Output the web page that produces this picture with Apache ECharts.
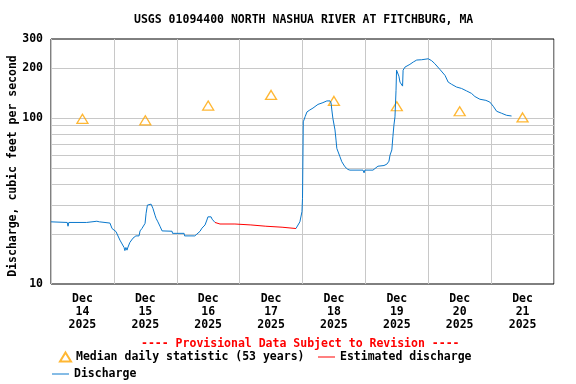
<!DOCTYPE html>
<html>
<head>
<meta charset="utf-8">
<script src="https://cdn.jsdelivr.net/npm/echarts@6/dist/echarts.min.js"></script>
<style>html,body{margin:0;padding:0;background:#fff}#main{width:576px;height:384px}</style>
</head>
<body>
<div id="main"></div>
<script>
// x values are hours after Dec 14 2025 00:00, y values are discharge (cfs)
var flowHoursA = [0, 6.2, 6.5, 6.8, 13.6, 13.7, 17.5, 17.7, 18.5, 19.0, 22.5, 23.3, 24.8, 26.3, 27.9, 28.2, 28.6, 29.0, 29.4, 30.1,
    31.3, 32.4, 33.6, 34.0, 34.7, 35.9, 36.3, 36.8, 37.4, 38.2, 38.9, 39.7, 40.1, 40.8, 41.6, 42.4, 46.2, 46.4, 50.8, 51.0,
    54.9, 55.7, 56.9, 57.6, 58.8, 59.5, 59.9, 61.1, 61.5, 61.8, 62.6];
var flowValuesA = [23.7, 23.5, 22.3, 23.5, 23.5, 23.9, 23.9, 23.3, 23.7, 23.3, 23.3, 21.6, 20.7, 18.4, 16.6, 15.9, 16.6, 16.0, 16.7, 17.8,
    18.9, 19.5, 19.5, 20.9, 21.6, 23.2, 26.7, 29.9, 30.6, 30.3, 28.6, 26.0, 24.9, 23.7, 22.3, 20.9, 20.8, 20.2, 20.2, 19.5,
    19.5, 20.0, 20.8, 21.7, 22.7, 24.3, 25.4, 25.4, 24.6, 24.3, 23.5];
var flowHoursB = [93.5, 93.9, 95.0, 95.8, 96.0, 96.2, 96.3, 97.0, 97.7, 98.8, 100.0, 101.9, 103.8, 105.3, 106.5, 106.9, 107.2, 107.6, 108.4, 108.8,
    109.1, 110.3, 111.0, 112.2, 113.3, 114.1, 119.1, 119.5, 119.8, 122.9, 123.6, 124.8, 125.5, 127.1, 128.2, 129.0, 129.4, 130.1, 130.5, 130.9,
    131.3, 131.7, 131.9, 132.6, 132.8, 133.2, 134.2, 134.4, 135.1, 137.0, 138.3, 139.6, 141.5, 144.0, 145.3, 146.5, 148.4, 150.4, 151.6, 152.9,
    154.8, 156.7, 158.6, 160.5, 161.8, 163.7, 166.0, 167.5, 168.8, 170.1, 172.0, 173.9, 175.8];
var flowValuesB = [21.6, 22.2, 23.7, 27.3, 32.8, 33, 95, 102, 109, 112, 115, 121, 124, 127, 127, 123.5, 112, 99.6, 84.9, 73.7,
    65.7, 58.5, 54.6, 50.9, 49.1, 48.6, 48.6, 46.8, 48.6, 48.6, 49.8, 51.3, 51.0, 51.8, 52.8, 55.0, 59.8, 64.3, 77.2, 90.8,
    101.8, 147, 194.5, 197, 179, 165, 156, 194.5, 203, 211, 218, 224, 225, 228, 222, 213, 197, 181, 165, 160,
    154, 151, 146, 141, 135, 130, 128, 125, 118, 110, 107, 104, 103];

var estHours = [62.6, 64.5, 70.2, 70.4, 76.3, 76.5, 82.0, 82.2, 88.2, 88.4, 93.5];
var estValues = [23.5, 23.0, 23.0, 22.7, 22.7, 22.3, 22.3, 22.0, 22.0, 21.6, 21.6];

var medianHours = [12, 36, 60, 84, 108, 132, 156, 180];
var medianValues = [99, 97, 119, 138, 127, 118, 110, 101];

var dayLabels = ['Dec\n14\n2025', 'Dec\n15\n2025', 'Dec\n16\n2025', 'Dec\n17\n2025',
    'Dec\n18\n2025', 'Dec\n19\n2025', 'Dec\n20\n2025', 'Dec\n21\n2025'];
var yLabels = [10, 100, 200, 300];
var yGrid = [20, 30, 40, 50, 60, 70, 80, 90, 100, 200];

function pairs(hs, vs) {
    return hs.map(function (h, i) { return [h, vs[i]]; });
}

var font = 'DejaVu Sans Mono';
var txt = { fontFamily: font, fontWeight: 'bold', fontSize: 11.5, color: '#000' };

var chart = echarts.init(document.getElementById('main'));
chart.setOption({
    animation: false,
    title: [{
        text: 'USGS 01094400 NORTH NASHUA RIVER AT FITCHBURG, MA',
        left: 129, top: 9,
        textStyle: txt
    }, {
        text: '---- Provisional Data Subject to Revision ----',
        left: 136, top: 333,
        textStyle: { fontFamily: font, fontWeight: 'bold', fontSize: 11.5, color: '#ff0000' }
    }],
    legend: [{
        data: ['Median daily statistic (53 years)'],
        left: 54, top: 346, itemWidth: 11, itemHeight: 9,
        selectedMode: false, textStyle: txt
    }, {
        data: ['Estimated discharge'],
        left: 313, top: 346, itemWidth: 17, itemHeight: 1, icon: 'rect',
        selectedMode: false, textStyle: txt
    }, {
        data: ['Discharge'],
        left: 47, top: 363, itemWidth: 17, itemHeight: 1, icon: 'rect',
        selectedMode: false, textStyle: txt
    }],
    grid: {
        left: 51, top: 39, right: 22, bottom: 100,
        outerBoundsMode: 'none',
        show: true, borderColor: '#000', borderWidth: 1, backgroundColor: '#fff'
    },
    xAxis: {
        type: 'value',
        min: 0, max: 192, interval: 24,
        axisLine: { show: false },
        axisTick: { show: false },
        splitLine: { show: true, lineStyle: { color: '#c8c8c8', width: 1 } },
        axisLabel: {
            customValues: medianHours,
            margin: 9,
            lineHeight: 13,
            fontFamily: font, fontWeight: 'bold', fontSize: 11.5, color: '#000',
            formatter: function (v) {
                return dayLabels[Math.round((v - 12) / 24)];
            }
        }
    },
    yAxis: {
        type: 'log',
        logBase: 10,
        min: 10, max: 300,
        name: 'Discharge, cubic feet per second',
        nameLocation: 'middle',
        nameGap: 32,
        nameMoveOverlap: false,
        nameTextStyle: { fontFamily: font, fontWeight: 'bold', fontSize: 11.5, color: '#000', padding: [0, 9, 0, 0] },
        axisLine: { show: false },
        axisTick: { show: false, customValues: yGrid },
        splitLine: { show: true, lineStyle: { color: '#c8c8c8', width: 1 } },
        axisLabel: {
            customValues: yLabels,
            margin: 8,
            fontFamily: font, fontWeight: 'bold', fontSize: 11.5, color: '#000'
        }
    },
    series: [{
        name: 'Discharge',
        type: 'line',
        symbol: 'none',
        data: pairs(flowHoursA, flowValuesA),
        lineStyle: { color: '#0a78cc', width: 1 },
        itemStyle: { color: '#0a78cc' }
    }, {
        name: 'Discharge',
        type: 'line',
        symbol: 'none',
        data: pairs(flowHoursB, flowValuesB),
        lineStyle: { color: '#0a78cc', width: 1 },
        itemStyle: { color: '#0a78cc' }
    }, {
        name: 'Estimated discharge',
        type: 'line',
        symbol: 'none',
        data: pairs(estHours, estValues),
        lineStyle: { color: '#ff0000', width: 1 },
        itemStyle: { color: '#ff0000' }
    }, {
        name: 'Median daily statistic (53 years)',
        type: 'scatter',
        symbol: 'triangle',
        symbolSize: [11, 9],
        data: pairs(medianHours, medianValues),
        itemStyle: { color: 'rgba(255,255,255,0)', borderColor: '#ffa500', borderWidth: 1.3 }
    }]
});
</script>
</body>
</html>
